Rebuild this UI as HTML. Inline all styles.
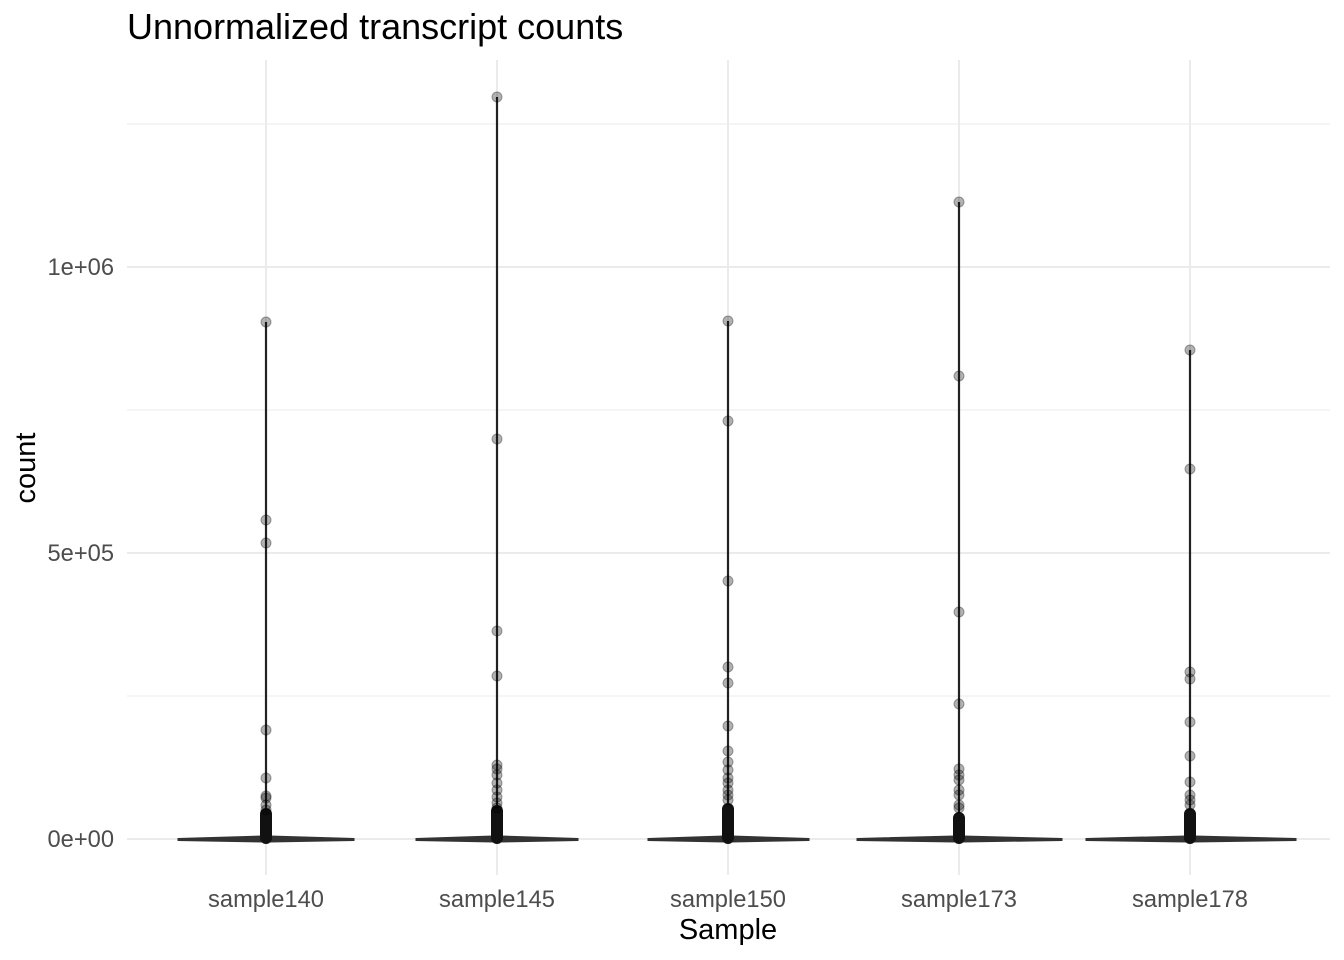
<!DOCTYPE html>
<html><head><style>body{margin:0;background:#fff}svg{display:block}text{font-family:"Liberation Sans",sans-serif}</style></head>
<body>
<svg width="1344" height="960" xmlns="http://www.w3.org/2000/svg">
<rect width="1344" height="960" fill="#fff"/>
<g stroke="#ebebeb" stroke-width="1">
<line x1="127" x2="1330" y1="124" y2="124"/><line x1="127" x2="1330" y1="410" y2="410"/><line x1="127" x2="1330" y1="696" y2="696"/>
</g>
<g stroke="#ebebeb" stroke-width="2">
<line x1="127" x2="1330" y1="267" y2="267"/><line x1="127" x2="1330" y1="553" y2="553"/><line x1="127" x2="1330" y1="839" y2="839"/>
<line x1="266" x2="266" y1="60" y2="875"/><line x1="497" x2="497" y1="60" y2="875"/><line x1="728" x2="728" y1="60" y2="875"/><line x1="959" x2="959" y1="60" y2="875"/><line x1="1190" x2="1190" y1="60" y2="875"/>
</g>
<g fill="#333" stroke="#333" stroke-width="1">
<polygon points="178,838.5 262,836 270,836 354,838.5 354,840.5 270,842 262,842 178,840.5"/>
<polygon points="416,838.5 493,836 501,836 578,838.5 578,840.5 501,842 493,842 416,840.5"/>
<polygon points="648,838.5 724,836 732,836 809,838.5 809,840.5 732,842 724,842 648,840.5"/>
<polygon points="857,838.5 955,836 963,836 1062,838.5 1062,840.5 963,842 955,842 857,840.5"/>
<polygon points="1086,838.5 1186,836 1194,836 1296,838.5 1296,840.5 1194,842 1186,842 1086,840.5"/>
</g>
<g stroke="#222" stroke-width="2.2">
<line x1="266" x2="266" y1="322" y2="839"/><line x1="497" x2="497" y1="97" y2="839"/><line x1="728" x2="728" y1="321" y2="839"/><line x1="959" x2="959" y1="202" y2="839"/><line x1="1190" x2="1190" y1="350" y2="839"/>
</g>
<g fill="#111">
<rect x="260" y="808" width="12" height="36" rx="6"/><rect x="491" y="805" width="12" height="39" rx="6"/><rect x="722" y="803" width="12" height="41" rx="6"/><rect x="953" y="812" width="12" height="32" rx="6"/><rect x="1184" y="808" width="12" height="36" rx="6"/>
</g>
<g fill="#000" fill-opacity="0.3" stroke="#000" stroke-opacity="0.35" stroke-width="1">
<g transform="translate(266,0)"><circle cy="322" r="5"/><circle cy="520" r="5"/><circle cy="543" r="5"/><circle cy="730" r="5"/><circle cy="778" r="5"/><circle cy="796" r="5"/><circle cy="798" r="5"/><circle cy="805" r="5"/><circle cy="810" r="5"/></g>
<g transform="translate(497,0)"><circle cy="97" r="5"/><circle cy="439" r="5"/><circle cy="631" r="5"/><circle cy="676" r="5"/><circle cy="765" r="5"/><circle cy="769" r="5"/><circle cy="775" r="5"/><circle cy="783" r="5"/><circle cy="790" r="5"/><circle cy="797" r="5"/><circle cy="803" r="5"/><circle cy="808" r="5"/></g>
<g transform="translate(728,0)"><circle cy="321" r="5"/><circle cy="421" r="5"/><circle cy="581" r="5"/><circle cy="667" r="5"/><circle cy="683" r="5"/><circle cy="726" r="5"/><circle cy="751" r="5"/><circle cy="762" r="5"/><circle cy="770" r="5"/><circle cy="778" r="5"/><circle cy="783" r="5"/><circle cy="790" r="5"/><circle cy="795" r="5"/><circle cy="800" r="5"/></g>
<g transform="translate(959,0)"><circle cy="202" r="5"/><circle cy="376" r="5"/><circle cy="612" r="5"/><circle cy="704" r="5"/><circle cy="769" r="5"/><circle cy="775" r="5"/><circle cy="780" r="5"/><circle cy="790" r="5"/><circle cy="795" r="5"/><circle cy="805" r="5"/><circle cy="808" r="5"/></g>
<g transform="translate(1190,0)"><circle cy="350" r="5"/><circle cy="469" r="5"/><circle cy="672" r="5"/><circle cy="679" r="5"/><circle cy="722" r="5"/><circle cy="756" r="5"/><circle cy="782" r="5"/><circle cy="795" r="5"/><circle cy="800" r="5"/><circle cy="805" r="5"/></g>
</g>
<g font-size="23.7" fill="#4d4d4d" text-anchor="end">
<text x="114" y="275">1e+06</text><text x="114" y="561">5e+05</text><text x="114" y="847">0e+00</text>
</g>
<g font-size="23.7" fill="#4d4d4d" text-anchor="middle">
<text x="266" y="907">sample140</text><text x="497" y="907">sample145</text><text x="728" y="907">sample150</text><text x="959" y="907">sample173</text><text x="1190" y="907">sample178</text>
</g>
<text x="728" y="939" font-size="29" text-anchor="middle" fill="#000">Sample</text>
<text transform="translate(35,468) rotate(-90)" font-size="29" text-anchor="middle" fill="#000">count</text>
<text x="127" y="39" font-size="36" fill="#000">Unnormalized transcript counts</text>
</svg>
</body></html>
